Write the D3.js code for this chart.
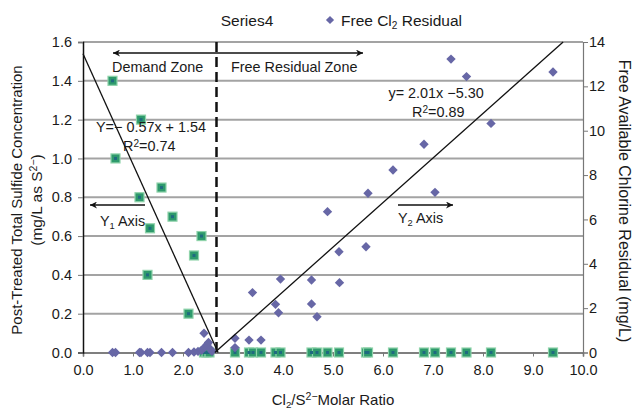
<!DOCTYPE html>
<html><head><meta charset="utf-8">
<script src="https://cdn.jsdelivr.net/npm/d3@7"></script>
<style>
html,body{margin:0;padding:0;background:#fff;}
svg{display:block;font-family:"Liberation Sans",Arial,sans-serif;}
</style></head>
<body>
<svg id="c" width="636" height="414"></svg>
<script>
// ---- data ----
// Post-treated total sulfide (Y1, squares)
const sulfideX = [0.59,0.65,1.13,1.16,1.29,1.34,1.57,1.79,2.11,2.22,2.37,2.42,2.47,2.53,3.04,3.32,3.40,3.56,3.85,3.95,4.57,4.68,4.89,5.12,5.66,5.70,6.20,6.82,7.04,7.36,7.67,8.16,9.40];
const sulfideY = [1.40,1.00,0.80,1.20,0.40,0.64,0.85,0.70,0.20,0.50,0.60,0,0,0,0,0,0,0,0,0,0,0,0,0,0,0,0,0,0,0,0,0,0];
// Free Cl2 residual (Y2, diamonds)
const chlorineX = [0.59,0.65,1.13,1.16,1.29,1.34,1.57,1.79,2.11,2.22,2.30,2.37,2.42,2.44,2.48,2.51,2.55,2.58,3.04,3.04,3.32,3.39,3.56,3.85,3.91,3.95,4.57,4.57,4.68,4.89,5.12,5.13,5.66,5.70,6.20,6.82,7.04,7.36,7.67,8.16,9.40];
const chlorineY = [0,0,0,0,0,0,0,0,0,0.02,0.05,0.10,0.87,0.25,0.35,0.45,0.15,0.05,0.64,0.22,0.56,2.70,0.56,2.17,1.79,3.31,3.27,2.19,1.61,6.35,4.54,3.15,4.77,7.18,8.23,9.39,7.22,13.23,12.44,10.33,12.65];
// trend lines: [slope, intercept]
const trendY1 = [-0.57, 1.54];
const trendY2 = [2.01, -5.30];
const boundaryX = [2.67];
// tick labels
const xTicks = [0,1,2,3,4,5,6,7,8,9,10];
const y1Ticks = [0,0.2,0.4,0.6,0.8,1.0,1.2,1.4,1.6];
const y2Ticks = [0,2,4,6,8,10,12,14];

// ---- layout ----
const svg = d3.select("#c");
const L = 83, R = 583, T = 42, B = 352.5;
const x = d3.scaleLinear().domain([0,10]).range([L,R]);
const y1 = d3.scaleLinear().domain([0,1.6]).range([B,T]);
const y2 = d3.scaleLinear().domain([0,14]).range([B,T]);
const txt = "#1a1a1a";

svg.append("defs").append("marker").attr("id","ah").attr("viewBox","0 0 10 10")
  .attr("refX",10).attr("refY",5).attr("markerWidth",13).attr("markerHeight",7)
  .attr("markerUnits","userSpaceOnUse").attr("orient","auto-start-reverse")
  .append("path").attr("d","M0,0 L10,5 L0,10 L3,5 Z").attr("fill","#111");

// gridlines
svg.append("g").selectAll("line").data(y1Ticks.filter(d=>d>0)).join("line")
  .attr("x1",L).attr("x2",R).attr("y1",d=>y1(d)).attr("y2",d=>y1(d))
  .attr("stroke","#a3a3a3").attr("stroke-width",2);

// axes
const fmt1 = d3.format(".1f");
const gx = svg.append("g").attr("transform",`translate(0,${B})`)
  .call(d3.axisBottom(x).tickValues(xTicks).tickFormat(fmt1).tickSize(4).tickPadding(8));
const gy1 = svg.append("g").attr("transform",`translate(${L},0)`)
  .call(d3.axisLeft(y1).tickValues(y1Ticks).tickFormat(fmt1).tickSize(5).tickPadding(6));
const gy2 = svg.append("g").attr("transform",`translate(${R},0)`)
  .call(d3.axisRight(y2).tickValues(y2Ticks).tickFormat(d3.format("d")).tickSize(5).tickPadding(1));
[gx,gy1,gy2].forEach(g=>{
  g.selectAll("text").attr("font-size",14.5).attr("fill",txt).attr("font-family","Liberation Sans, Arial, sans-serif");
  g.selectAll(".tick line").attr("stroke","#777");
});
gx.select(".domain").attr("stroke","#555").attr("stroke-width",1.5);
gy1.select(".domain").attr("stroke","#111").attr("stroke-width",1.5);
gy2.select(".domain").attr("stroke","#777").attr("stroke-width",1.2);

// boundary dashed line
svg.append("line").attr("x1",x(boundaryX[0])).attr("x2",x(boundaryX[0]))
  .attr("y1",y1(1.6)).attr("y2",y1(0)).attr("stroke","#111").attr("stroke-width",2.5)
  .attr("stroke-dasharray","10,5");

// squares (Y1)
const sq = sulfideX.map((v,i)=>({x:v,y:sulfideY[i]}));
const gs = svg.append("g");
gs.selectAll("rect.o").data(sq).join("rect").attr("class","o")
  .attr("x",d=>x(d.x)-4.5).attr("y",d=>y1(d.y)-4.5).attr("width",9).attr("height",9)
  .attr("fill","#2e9a6c").attr("stroke","#8fd3aa").attr("stroke-width",1.2);
gs.selectAll("rect.i").data(sq).join("rect").attr("class","i")
  .attr("x",d=>x(d.x)-1.5).attr("y",d=>y1(d.y)-1.5).attr("width",3).attr("height",3)
  .attr("fill","#1f6a80");

// diamonds (Y2)
const dm = chlorineX.map((v,i)=>({x:v,y:chlorineY[i]}));
const diamond = d3.symbol(d3.symbolSquare, 44);
svg.append("g").selectAll("path").data(dm).join("path")
  .attr("d",diamond).attr("transform",d=>`translate(${x(d.x)},${y2(d.y)}) rotate(45)`)
  .attr("fill","#6767a6");

// trend lines
const x1end = -trendY1[1]/trendY1[0];
svg.append("line").attr("x1",x(0)).attr("y1",y1(trendY1[1]))
  .attr("x2",x(x1end)).attr("y2",y1(0)).attr("stroke","#111").attr("stroke-width",1.3);
const x2start = -trendY2[1]/trendY2[0], x2end = (14-trendY2[1])/trendY2[0];
svg.append("line").attr("x1",x(x2start)).attr("y1",y2(0))
  .attr("x2",x(x2end)).attr("y2",y2(14)).attr("stroke","#111").attr("stroke-width",1.3);

// zone arrow
svg.append("line").attr("x1",x(2.6)).attr("x2",x(0.6)).attr("y1",y1(1.543)).attr("y2",y1(1.543))
  .attr("stroke","#111").attr("stroke-width",1.5).attr("marker-end","url(#ah)");
svg.append("line").attr("x1",x(2.6)).attr("x2",x(5.6)).attr("y1",y1(1.543)).attr("y2",y1(1.543))
  .attr("stroke","#111").attr("stroke-width",1.5).attr("marker-end","url(#ah)");
// axis arrows
svg.append("line").attr("x1",x(1.24)).attr("x2",x(0.14)).attr("y1",y1(0.76)).attr("y2",y1(0.76))
  .attr("stroke","#111").attr("stroke-width",1.5).attr("marker-end","url(#ah)");
svg.append("line").attr("x1",x(6.3)).attr("x2",x(7.4)).attr("y1",y1(0.76)).attr("y2",y1(0.76))
  .attr("stroke","#111").attr("stroke-width",1.5).attr("marker-end","url(#ah)");

function label(px,py,size,parts,anchor){
  const t = svg.append("text").attr("x",px).attr("y",py).attr("font-size",size)
    .attr("fill",txt).attr("text-anchor",anchor||"start");
  parts.forEach(p=>{
    const s = t.append("tspan").text(p[0]);
    if(p[1]==="sub") s.attr("font-size",size*0.65).attr("baseline-shift","-30%");
    if(p[1]==="sup") s.attr("font-size",size*0.7).attr("baseline-shift","45%");
  });
  return t;
}
label(x(0.58),72,14.4,[["Demand Zone"]]);
label(x(2.96),72,14.4,[["Free Residual Zone"]]);
label(x(0.26),132,14.4,[["Y=\u2212 0.57x + 1.54"]]);
label(x(0.80),151,14.4,[["R"],["2","sup"],["=0.74"]]);
label(x(6.11),98,14.4,[["y= 2.01x \u22125.30"]]);
label(x(6.58),117,14.4,[["R"],["2","sup"],["=0.89"]]);
label(x(0.34),226,14.4,[["Y"],["1","sub"],[" Axis"]]);
label(x(6.30),223,14.4,[["Y"],["2","sub"],[" Axis"]]);

// legend
label(247,26,15.5,[["Series4"]],"middle");
svg.append("path").attr("d",d3.symbol(d3.symbolSquare,34)).attr("transform","translate(330,20) rotate(45)").attr("fill","#6767a6");
label(341,26,15.5,[["Free Cl"],["2","sub"],[" Residual"]]);

// axis titles
label(333,405,15,[["Cl"],["2","sub"],["/S"],["2\u2212","sup"],["Molar Ratio"]],"middle");
const lt = svg.append("g").attr("transform","translate(22,200) rotate(-90)");
lt.append("text").attr("text-anchor","middle").attr("font-size",15).attr("fill",txt).text("Post-Treated Total Sulfide Concentration");
const lt2 = lt.append("text").attr("y",20).attr("text-anchor","middle").attr("font-size",15.5).attr("fill",txt);
lt2.append("tspan").text("(mg/L as S");
lt2.append("tspan").text("2\u2212").attr("font-size",10.5).attr("baseline-shift","45%");
lt2.append("tspan").text(")");
svg.append("g").attr("transform","translate(619,201) rotate(90)")
  .append("text").attr("text-anchor","middle").attr("font-size",16).attr("fill",txt)
  .text("Free Available Chlorine Residual (mg/L)");
</script>
</body></html>
